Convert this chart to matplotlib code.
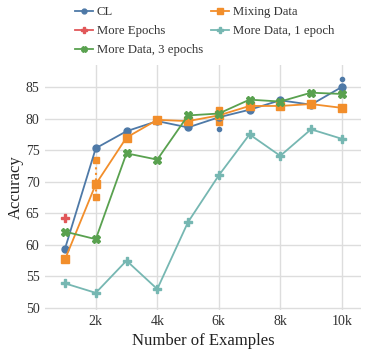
import matplotlib
matplotlib.use("Agg")
import matplotlib.pyplot as plt

plt.rcParams['font.family'] = ['Liberation Serif', 'DejaVu Serif']

# number of examples (thousands)
x = [1, 2, 3, 4, 5, 6, 7, 8, 9, 10]
cl = [59.4, 75.3, 78.0, 79.6, 78.6, 80.2, 81.4, 82.9, 82.2, 85.0]
mixing = [57.7, 69.6, 77.0, 79.8, 79.6, 80.5, 82.0, 82.0, 82.3, 81.7]
more_epochs_x = [1]
more_epochs = [64.3]
more_data_1 = [53.9, 52.4, 57.5, 53.0, 63.6, 71.0, 77.5, 74.1, 78.3, 76.8]
more_data_3 = [62.1, 60.9, 74.5, 73.5, 80.5, 80.8, 83.0, 82.7, 84.1, 83.9]

# spread of runs (x, low, high)
cl_err = [(6, 78.4, 80.2), (10, 84.6, 86.2)]
mixing_err = [(2, 67.6, 73.4), (6, 79.4, 81.3)]

xticks = [2, 4, 6, 8, 10]
xticklabels = ['2k', '4k', '6k', '8k', '10k']
yticks = [50, 55, 60, 65, 70, 75, 80, 85]

c_blue = '#4e79a7'
c_orange = '#f28e2b'
c_red = '#e15759'
c_teal = '#76b7b2'
c_green = '#59a14f'

fig = plt.figure(figsize=(3.72, 3.49), dpi=100)
ax = fig.add_axes([0.121, 0.112, 0.849, 0.702])

# error bars
for xe, lo, hi in cl_err:
    ax.plot([xe, xe], [lo, hi], ls=':', color=c_blue, lw=1.2)
    ax.plot([xe, xe], [lo, hi], ls='none', marker='o', ms=3, color=c_blue)
for xe, lo, hi in mixing_err:
    ax.plot([xe, xe], [lo, hi], ls=':', color=c_orange, lw=1.5)
    ax.plot([xe, xe], [lo, hi], ls='none', marker='s', ms=4, color=c_orange)

ax.plot(x, cl, color=c_blue, marker='o', ms=5, lw=1.3, label='CL')
ax.plot(x, mixing, color=c_orange, marker='s', ms=6, lw=1.3, label='Mixing Data')
ax.plot(more_epochs_x, more_epochs, color=c_red, marker='P', ms=5.5, lw=1.3, label='More Epochs')
ax.plot(x, more_data_1, color=c_teal, marker='P', ms=6, lw=1.3, label='More Data, 1 epoch')
ax.plot(x, more_data_3, color=c_green, marker='X', ms=5.5, lw=1.3, label='More Data, 3 epochs')

ax.set_xlim(0.35, 10.62)
ax.set_ylim(49.7, 88.5)
ax.set_xticks(xticks)
ax.set_xticklabels(xticklabels)
ax.set_yticks(yticks)
ax.tick_params(length=0, labelsize=10, colors='#333333', pad=4)
ax.grid(True, color='#dddddd', lw=1)
ax.set_axisbelow(True)
for s in ax.spines.values():
    s.set_visible(False)
ax.set_xlabel('Number of Examples', fontsize=12, color='#222222', labelpad=3)
ax.set_ylabel('Accuracy', fontsize=12, color='#222222', labelpad=1)

h, l = ax.get_legend_handles_labels()
order = [0, 2, 4, 1, 3]
fig.legend([h[i] for i in order], [l[i] for i in order], ncol=2,
           loc='upper center', bbox_to_anchor=(0.55, 1.015), frameon=False,
           fontsize=9.2, handlelength=1.4, columnspacing=0.6,
           labelspacing=0.55, handletextpad=0.3, markerscale=0.7,
           labelcolor='#333333')

fig.savefig('out.png', dpi=100)
